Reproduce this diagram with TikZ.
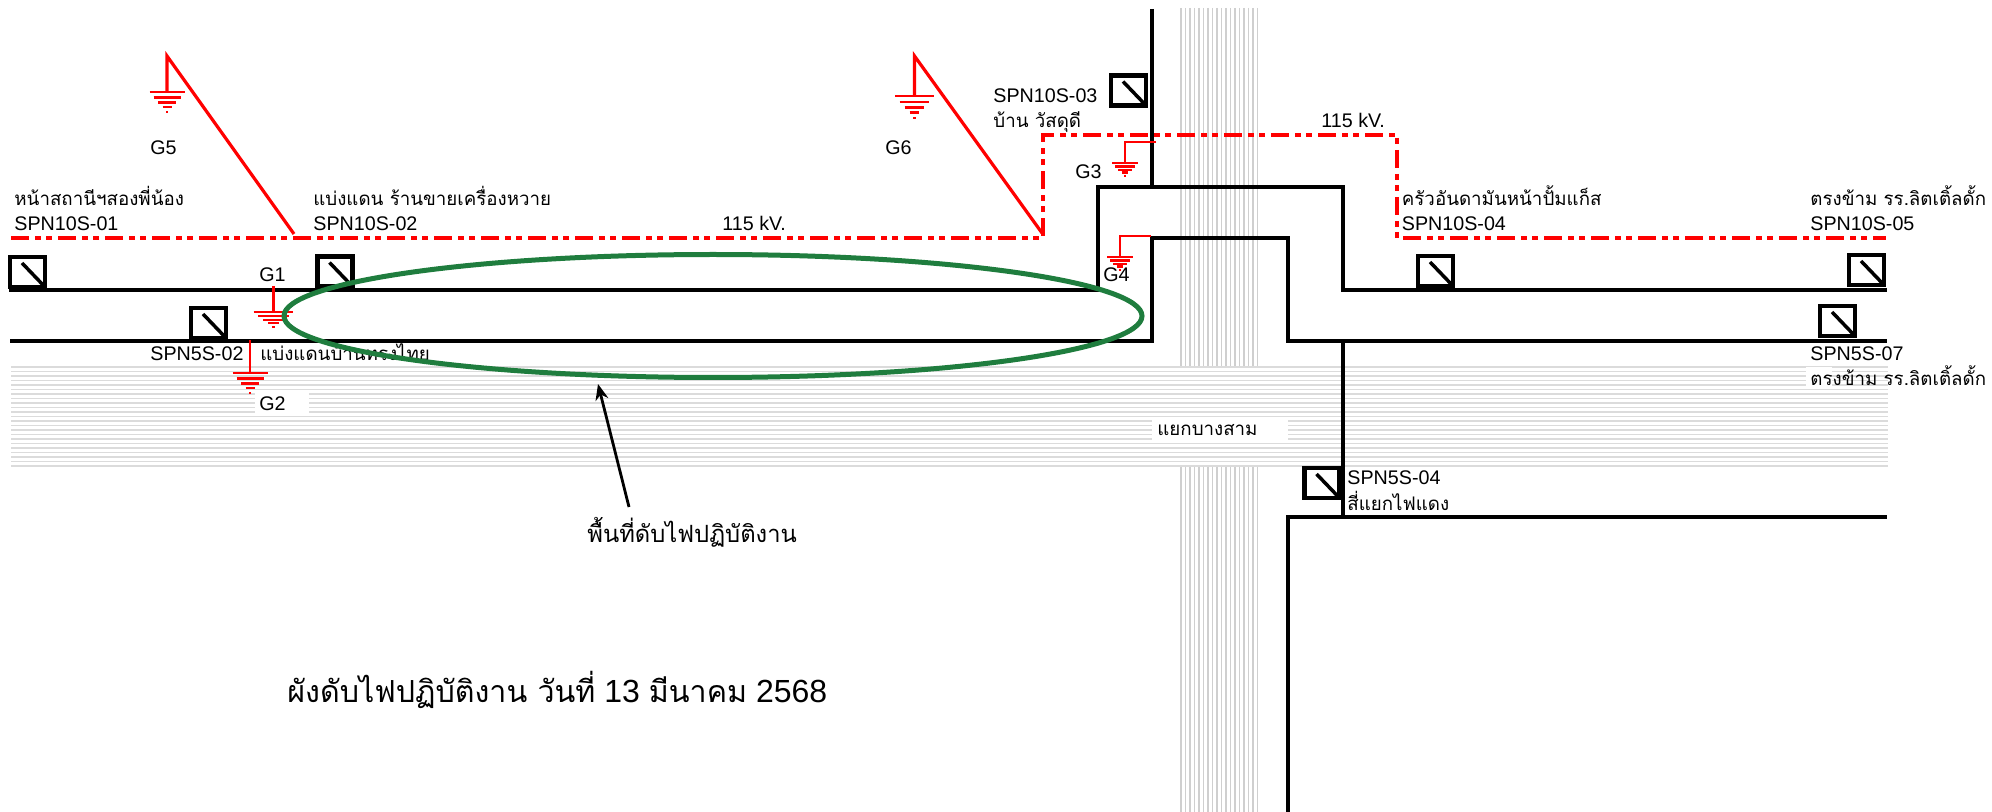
\documentclass[tikz,border=0pt]{standalone}
\usepackage{fontspec}
\setmainfont{Liberation Sans}
\newfontfamily\thaifont[Script=Thai,Scale=0.95]{Loma}
\newcommand{\thaitext}[1]{{\thaifont #1}}
\usepackage{tikz}
\usetikzlibrary{positioning,calc,shapes.geometric,arrows.meta}

\tikzset{
  lbl/.style={anchor=base west, inner sep=0pt, align=left, font=\fontsize{9.85}{12.6}\selectfont},
  feeder/.style={line width=2.2pt},
  hvline/.style={red, line width=2pt, dash pattern=on 9pt off 3pt on 3pt off 2.5pt on 3pt off 3pt},
  groundwire/.style={red, line width=1.3pt},
  swbox/.style={draw, line width=2.2pt, fill=white, inner sep=0pt, minimum width=17.5pt, minimum height=15pt,
    path picture={\draw[line width=1.75pt] ([xshift=6pt,yshift=-3pt]path picture bounding box.north west) -- (path picture bounding box.south east);}},
  earth/.pic={
    \draw[red, line width=1.25pt] (-17.5,0) -- (17.5,0) (-13.5,5.5) -- (13.5,5.5) (-9,10.5) -- (9,10.5) (-4.5,15) -- (4.5,15) (-1,20) -- (1,20);
  },
}

\begin{document}
\begin{tikzpicture}[x=0.5pt, y=-0.5pt]
  \useasboundingbox (0,0) rectangle (1992,812);

  % road bands
  \foreach \y in {367,371.5,...,467} \draw[gray!28, line width=.75pt] (11,\y) -- (1888,\y);
  \foreach \x in {1181,1185.5,...,1260} {
    \draw[gray!38, line width=.75pt] (\x,8) -- (\x,366);
    \draw[gray!38, line width=.75pt] (\x,467) -- (\x,812);
  }
  \fill[white] (255,393) rectangle (309,416);
  \fill[white] (1152,417) rectangle (1288,441);
  \fill[white] (1806,367) rectangle (1832,388);

  % feeders
  \draw[feeder] (9,290) -- (1098,290) -- (1098,187) -- (1343,187) -- (1343,290) -- (1887,290);
  \draw[feeder] (10,341) -- (1152,341) -- (1152,238) -- (1288,238) -- (1288,341) -- (1887,341);
  \draw[feeder] (1152,9) -- (1152,187);
  \draw[feeder] (1343,341) -- (1343,517);
  \draw[feeder] (1288,812) -- (1288,517) -- (1887,517);

  % switches
  \node[swbox] (sw01) at (27.5,272) {};
  \node[swbox] (sw02) at (335,271.5) {};
  \node[swbox] (sw03) at (1128.5,90.5) {};
  \node[swbox] (sw04) at (1435.5,271) {};
  \node[swbox] (sw05) at (1866.5,270) {};
  \node[swbox] (sw52) at (208.5,323) {};
  \node[swbox] (sw57) at (1837.5,321) {};
  \node[swbox] (sw54) at (1322,483) {};

  % 115 kV line
  \coordinate (hva) at (11,238);
  \coordinate (hvb) at (1043,238);
  \coordinate (hvc) at (1043,135);
  \coordinate (hvd) at (1397,135);
  \coordinate (hve) at (1397,241);
  \coordinate (hvf) at (1403,238);
  \coordinate (hvg) at (1886,238);
  \draw[hvline] (hva) -- (hvb) -- (hvc) -- (hvd) -- (hve);
  \draw[hvline] (hvf) -- (hvg);

  % grounds
  \coordinate (g5top) at (167,56);
  \coordinate (g5) at (167,92);
  \coordinate (g5foot) at (294,234);
  \draw[red, line width=1.6pt] (g5foot) -- (g5top) -- (g5);
  \pic at (g5) {earth};
  \coordinate (g6top) at (914.5,56);
  \coordinate (g6) at (914.5,96);
  \coordinate (g6foot) at (1042,233);
  \draw[red, line width=1.6pt] (g6foot) -- (g6top) -- (g6);
  \pic[scale=1.1] at (g6) {earth};
  \coordinate (g1top) at (273.5,286);
  \coordinate (g1) at (273.5,312);
  \draw[groundwire] (g1top) -- (g1);
  \pic[xscale=1.14, yscale=.75] at (g1) {earth};
  \coordinate (g2top) at (250,340);
  \coordinate (g2) at (250,373);
  \draw[groundwire] (g2top) -- (g2);
  \pic at (g2) {earth};
  \coordinate (g3a) at (1156,142);
  \coordinate (g3b) at (1125,142);
  \coordinate (g3) at (1125,163);
  \draw[groundwire] (g3a) -- (g3b) -- (g3);
  \pic[xscale=.74, yscale=.65] at (g3) {earth};
  \coordinate (g4a) at (1151,236);
  \coordinate (g4b) at (1120,236);
  \coordinate (g4) at (1120,257);
  \draw[groundwire] (g4a) -- (g4b) -- (g4);
  \pic[xscale=.74, yscale=.65] at (g4) {earth};

  % labels
  \node[lbl] (txt01) at (14,231) {\thaitext{หน้าสถานีฯสองพี่น้อง}\\SPN10S-01};
  \node[lbl] (txt02) at (313,231) {\thaitext{แบ่งแดน ร้านขายเครื่องหวาย}\\SPN10S-02};
  \node[lbl] (txt03) at (993,128) {SPN10S-03\\\thaitext{บ้าน วัสดุดี}};
  \node[lbl] (txt04) at (1401.5,231) {\thaitext{ครัวอันดามันหน้าปั้มแก็ส}\\SPN10S-04};
  \node[lbl] (txt05) at (1810,231) {\thaitext{ตรงข้าม รร.ลิตเติ้ลดั้ก}\\SPN10S-05};
  \node[lbl] (txt52) at (150,361) {SPN5S-02};
  \node[lbl] (txt52b) at (260,361) {\thaitext{แบ่งแดนบ้านทรงไทย}};
  \node[lbl] (txt57) at (1810,386) {SPN5S-07\\\thaitext{ตรงข้าม รร.ลิตเติ้ลดั้ก}};
  \node[lbl] (txt54) at (1347,510) {SPN5S-04\\\thaitext{สี่แยกไฟแดง}};
  \node[lbl] (junction) at (1157,436) {\thaitext{แยกบางสาม}};
  \node[lbl] (kva) at (722,231) {115 kV.};
  \node[lbl] (kvb) at (1321,128) {115 kV.};
  \node[lbl] (lg1) at (259,282) {G1};
  \node[lbl] (lg2) at (259,411) {G2};
  \node[lbl] (lg3) at (1075,179) {G3};
  \node[lbl] (lg4) at (1103,282) {G4};
  \node[lbl] (lg5) at (150,155) {G5};
  \node[lbl] (lg6) at (885,155) {G6};

  % outage area
  \node[draw={rgb,255:red,31;green,125;blue,62}, line width=2.5pt, ellipse, inner sep=0pt, minimum width=429pt, minimum height=61.5pt] (zone) at (713,316) {};
  \node[lbl, font=\fontsize{12.5}{14}\selectfont] (areatext) at (587,542) {\thaitext{พื้นที่ดับไฟปฏิบัติงาน}};
  \coordinate (zonetip) at (598,384);
  \coordinate (areatail) at (629,507);
  \draw[-{Stealth[length=8pt,width=6.5pt]}, line width=1.4pt] (areatail) -- (zonetip);
  \node[lbl, font=\fontsize{16}{18}\selectfont] (title) at (287,702) {\thaitext{ผังดับไฟปฏิบัติงาน วันที่} 13 \thaitext{มีนาคม} 2568};
\end{tikzpicture}
\end{document}
